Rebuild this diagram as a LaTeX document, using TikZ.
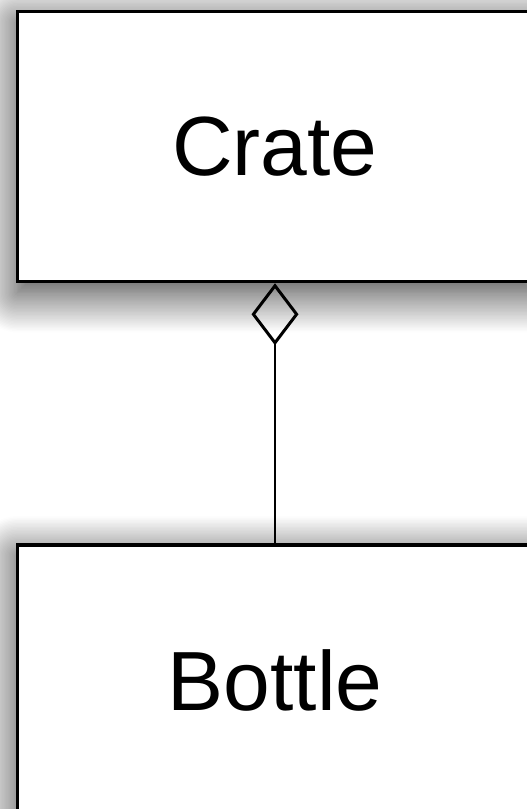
\documentclass[tikz,border=0pt]{standalone}
\usepackage{fontspec}
\setmainfont{Liberation Sans}
\usetikzlibrary{positioning,arrows.meta,shadows.blur}

\tikzset{
  classbox/.style={draw=black,line width=3.5pt,fill=white,
    minimum width=515pt,minimum height=270pt,inner sep=0pt,
    font=\fontsize{84}{96}\selectfont,
    blur shadow={shadow xshift=0pt,shadow yshift=-11pt,
      shadow blur radius=40pt,shadow blur steps=30,shadow opacity=80}},
  aggr/.style={line width=2.5pt,
    {Diamond[open,length=62pt,width=47pt,line width=3pt]}-}
}

\begin{document}
\begin{tikzpicture}[x=1pt,y=1pt]
  \useasboundingbox (0,0) rectangle (527,-809);

  % Crate
  \node[classbox] (crate) at (275,-146.5) {Crate};

  % Bottle
  \node[classbox,below=260pt of crate] (bottle) {Bottle};

  % aggregation
  \draw[aggr] (crate.south) -- (bottle.north);
\end{tikzpicture}
\end{document}
